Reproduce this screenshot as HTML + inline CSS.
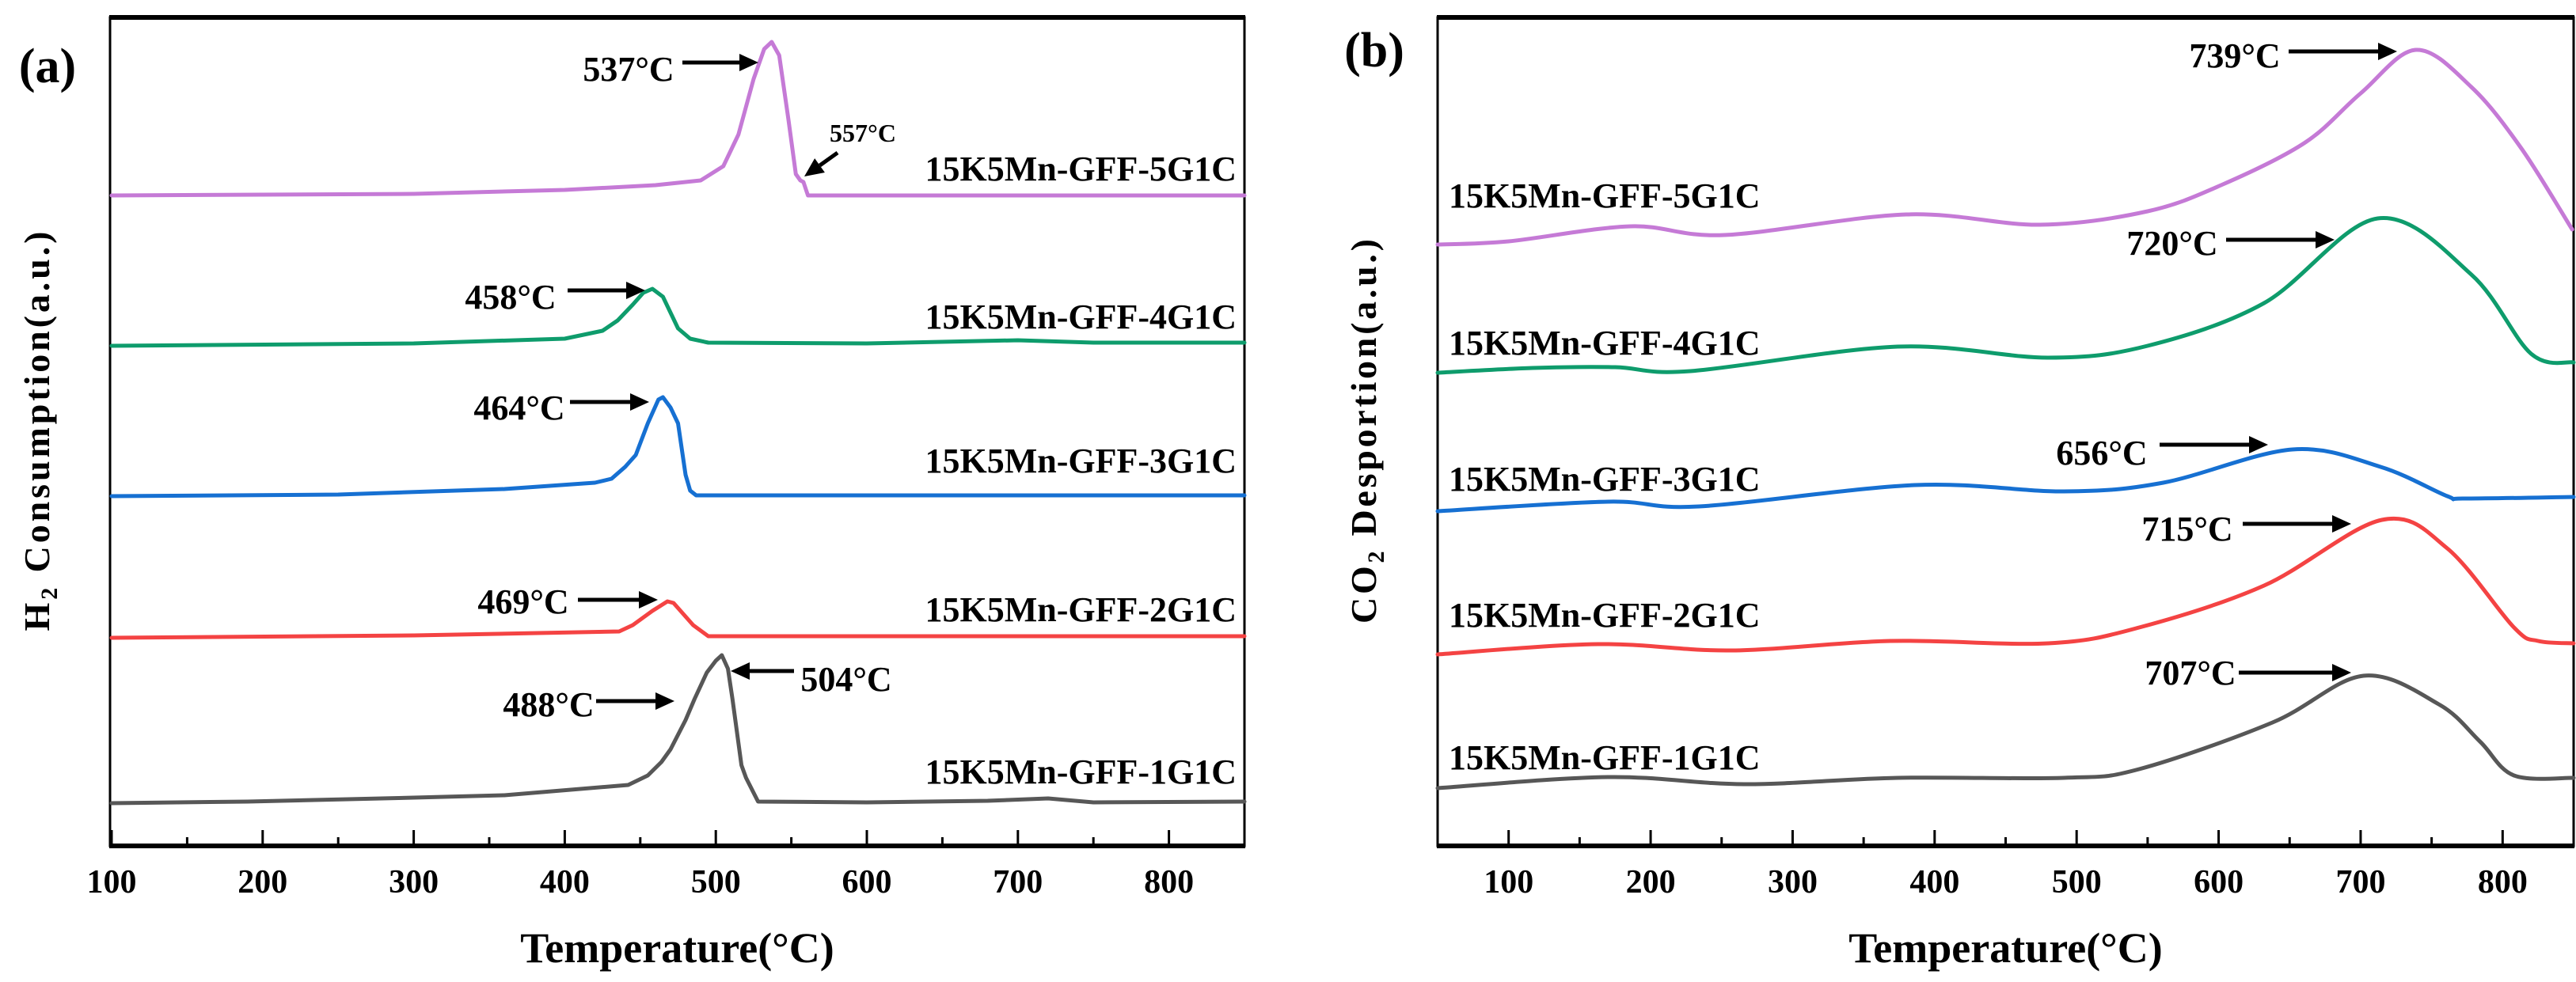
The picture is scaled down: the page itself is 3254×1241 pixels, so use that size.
<!DOCTYPE html>
<html><head><meta charset="utf-8"><style>
html,body{margin:0;padding:0;background:#fff;}
svg{display:block;}
text{font-family:"Liberation Serif",serif;font-weight:bold;fill:#000;}
</style></head>
<body>
<svg id="fig" width="3254" height="1241" viewBox="0 0 3254 1241" xmlns="http://www.w3.org/2000/svg">
<g id="pa"></g>
<g id="pb"></g>
</svg>
<script>
// ---------- Panel (a) H2-TPR data (temperature °C, signal a.u.) ----------
const aTicks = [100,200,300,400,500,600,700,800];
const aMinor = [150,250,350,450,550,650,750];
const a5T = [100,300,400,460,490,505,515,525,532,537,542,548,553,556,558,561,850];
const a5V = [822,824,829,835,841,859,899,969,1007,1016,999,919,849,841,839,822,822];
const a4T = [100,300,400,425,435,445,452,458,465,475,483,495,600,700,750,850];
const a4V = [632,635,641,651,664,684,699,704,694,654,641,636,635,639,636,636];
const a3T = [100,250,360,420,431,440,447,455,462,465,470,475,480,483,487,850];
const a3V = [442,444,451,459,464,479,494,534,564,567,554,534,469,449,443,443];
const a2T = [100,300,436,445,458,468,472,485,495,850];
const a2V = [263,266,271,279,297,309,307,279,265,265];
const a1T = [100,190,300,360,442,455,464,470,480,486,494,500,504,508,511,517,520,528,600,680,720,750,850];
const a1V = [54,56,61,64,77,89,106,122,159,186,219,234,241,224,186,102,86,56,55,57,60,55,56];
// ---------- Panel (b) CO2-TPD data ----------
const bTicks = [100,200,300,400,500,600,700,800];
const bMinor = [150,250,350,450,550,650,750];
const b5T = [50,100,186,252,380,474,550,603,661,700,739,778,813,849];
const b5V = [760,764,783,772,798,785,802,836,889,951,1006,959,882,779];
const b4T = [50,117,175,228,374,480,550,632,712,778,820,850];
const b4V = [598,604,605,600,631,617,632,686,793,722,622,611];
const b3T = [50,170,234,386,491,561,652,714,761,773,850];
const b3V = [423,435,429,456,448,459,501,479,442,439,441];
const b2T = [50,163,257,369,480,544,632,715,761,808,825,850];
const b2V = [242,255,247,259,256,276,329,412,376,276,259,256];
const b1T = [50,170,266,374,491,544,638,702,755,784,808,850];
const b1V = [73,87,78,86,86,97,156,215,179,132,89,86];

const NS = "http://www.w3.org/2000/svg";
function mk(tag, attrs, parent){
  const e = document.createElementNS(NS, tag);
  for (const k in attrs) e.setAttribute(k, attrs[k]);
  parent.appendChild(e);
  return e;
}
const Y0 = 1069;
const yS = v => Y0 - v;
const xA = t => 141 + (t - 100) * (1431 / 750);
const xB = t => 1816 + (t - 50) * (1435 / 800);

function linePath(T, V, xs){
  return T.map((t,i)=>(i?"L":"M")+xs(t).toFixed(1)+","+yS(V[i]).toFixed(1)).join(" ");
}
function smoothPath(T, V, xs){
  const p = T.map((t,i)=>[xs(t), yS(V[i])]);
  let d = "M"+p[0][0].toFixed(1)+","+p[0][1].toFixed(1);
  for (let i=0;i<p.length-1;i++){
    const p0 = p[Math.max(0,i-1)], p1=p[i], p2=p[i+1], p3=p[Math.min(p.length-1,i+2)];
    const c1 = [p1[0]+(p2[0]-p0[0])/6, p1[1]+(p2[1]-p0[1])/6];
    const c2 = [p2[0]-(p3[0]-p1[0])/6, p2[1]-(p3[1]-p1[1])/6];
    d += " C"+c1[0].toFixed(1)+","+c1[1].toFixed(1)+" "+c2[0].toFixed(1)+","+c2[1].toFixed(1)+" "+p2[0].toFixed(1)+","+p2[1].toFixed(1);
  }
  return d;
}
function txt(parent, s, x, y, size, anchor, extra){
  const e = mk("text", Object.assign({x:x, y:y, "font-size":size, "text-anchor":anchor||"middle"}, extra||{}), parent);
  e.textContent = s;
  return e;
}
function arrow(parent, x1, y1, x2, y2){
  const g = mk("g", {}, parent);
  
  
  const dx=x2-x1, dy=y2-y1, L=Math.hypot(dx,dy), ux=dx/L, uy=dy/L;
  const hl=24, hw=11;
  const bx=x2-ux*hl, by=y2-uy*hl;
  mk("line",{x1:x1,y1:y1,x2:bx,y2:by,stroke:"#000","stroke-width":5},g);
  mk("polygon",{points:`${x2},${y2} ${bx-uy*hw},${by+ux*hw} ${bx+uy*hw},${by-ux*hw}`,fill:"#000"},g);
}

function drawAxes(g, x0, x1, xs, ticks, minor, prefix){
  const fr = mk("rect",{x:x0,y:22,width:x1-x0,height:Y0-22,fill:"none",stroke:"#000","stroke-width":3},g);
  
  
  const tb = mk("line",{x1:x0-1,y1:22,x2:x1+1,y2:22,stroke:"#000","stroke-width":6},g);
  
  
  const bb = mk("line",{x1:x0-1,y1:Y0,x2:x1+1,y2:Y0,stroke:"#000","stroke-width":6},g);
  
  
  ticks.forEach(t=>{
    const l = mk("line",{x1:xs(t),y1:Y0,x2:xs(t),y2:Y0-20,stroke:"#000","stroke-width":3},g);
    
    
    const lb = txt(g, String(t), xs(t), 1128, 42);
    
    
  });
  minor.forEach(t=>{
    const l = mk("line",{x1:xs(t),y1:Y0,x2:xs(t),y2:Y0-11,stroke:"#000","stroke-width":3},g);
    
    
  });
  const xt = txt(g, "Temperature(°C)", (x0+x1)/2, 1216, 54);
  
  
}

function series(g, T, V, xs, color, name, smooth){
  const p = mk("path",{d: smooth?smoothPath(T,V,xs):linePath(T,V,xs), fill:"none", stroke:color, "stroke-width":5, "stroke-linejoin":"round","stroke-linecap":"round"}, g);
  
  
}

// ----- Panel a -----
const pa = document.getElementById("pa");
drawAxes(pa, 139, 1572, xA, aTicks, aMinor, "panel-a");
const C = {p:"#c57ad6", g:"#0e9c6c", b:"#1670d2", r:"#f44343", k:"#575757"};
series(pa, a5T, a5V, xA, C.p, "series-a-5g1c", false);
series(pa, a4T, a4V, xA, C.g, "series-a-4g1c", false);
series(pa, a3T, a3V, xA, C.b, "series-a-3g1c", false);
series(pa, a2T, a2V, xA, C.r, "series-a-2g1c", false);
series(pa, a1T, a1V, xA, C.k, "series-a-1g1c", false);
const aLabels = ["15K5Mn-GFF-5G1C","15K5Mn-GFF-4G1C","15K5Mn-GFF-3G1C","15K5Mn-GFF-2G1C","15K5Mn-GFF-1G1C"];
const aLabelY = [228,415,597,785,990];
aLabels.forEach((s,i)=>{
  const e = txt(pa, s, 1562, aLabelY[i], 44, "end");
  
  
});
[["537°C",794,87,44],["557°C",1090,168,32],["458°C",645,375,44],["464°C",656,515,44],["469°C",661,760,44],["504°C",1069,858,44],["488°C",693,890,44]].forEach(a=>{
  const e = txt(pa, a[0], a[1], a[2]+a[3]*0.34, a[3]);
  
  
});
arrow(pa,862,79,958,79); arrow(pa,1058,193,1016,223); arrow(pa,717,367,815,367);
arrow(pa,720,508,820,508); arrow(pa,730,758,831,758); arrow(pa,1003,848,923,848); arrow(pa,753,886,852,886);
const pal = txt(pa, "(a)", 60, 104, 62);


const ya = mk("text",{x:0,y:0,"font-size":46,"text-anchor":"middle",transform:"translate(62,545) rotate(-90)",textLength:505,lengthAdjust:"spacing"},pa);


ya.innerHTML = 'H<tspan font-size="30" dy="10">2</tspan><tspan dy="-10"> Consumption(a.u.)</tspan>';

// ----- Panel b -----
const pb = document.getElementById("pb");
drawAxes(pb, 1816, 3251, xB, bTicks, bMinor, "panel-b");
series(pb, b5T, b5V, xB, C.p, "series-b-5g1c", true);
series(pb, b4T, b4V, xB, C.g, "series-b-4g1c", true);
series(pb, b3T, b3V, xB, C.b, "series-b-3g1c", true);
series(pb, b2T, b2V, xB, C.r, "series-b-2g1c", true);
series(pb, b1T, b1V, xB, C.k, "series-b-1g1c", true);
const bLabelY = [262,448,620,792,972];
aLabels.forEach((s,i)=>{
  const e = txt(pb, s, 1830, bLabelY[i], 44, "start");
  
  
});
[["739°C",2823,70],["720°C",2744,307],["656°C",2655,572],["715°C",2763,668],["707°C",2767,850]].forEach(a=>{
  const e = txt(pb, a[0], a[1], a[2]+15, 44);
  
  
});
arrow(pb,2891,65,3028,65); arrow(pb,2812,303,2949,303); arrow(pb,2728,562,2865,562);
arrow(pb,2833,662,2970,662); arrow(pb,2828,850,2970,850);
const pbl = txt(pb, "(b)", 1736, 84, 62);


const yb = mk("text",{x:0,y:0,"font-size":46,"text-anchor":"middle",transform:"translate(1738,545) rotate(-90)",textLength:486,lengthAdjust:"spacing"},pb);


yb.innerHTML = 'CO<tspan font-size="30" dy="10">2</tspan><tspan dy="-10"> Desportion(a.u.)</tspan>';
</script>
</body></html>
